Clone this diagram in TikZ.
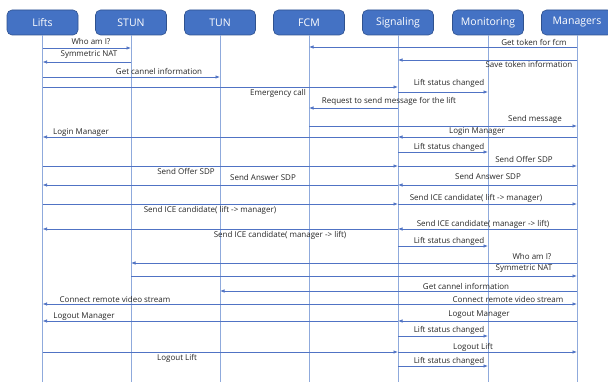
\documentclass[tikz,border=0pt]{standalone}
\usepackage{fontspec}
\setmainfont{Open Sans}
\usepackage{tikz}
\usetikzlibrary{arrows.meta}
\usetikzlibrary{positioning}
\definecolor{boxblue}{RGB}{68,114,196}
\definecolor{boxline}{RGB}{47,82,143}
\definecolor{lineblue}{RGB}{80,115,196}
\definecolor{lifeblue}{RGB}{143,170,220}
\tikzset{
    actor/.style={
        draw=boxline,
        fill=boxblue,
        rounded corners=5pt,
        minimum width=71pt,
        minimum height=25pt,
        inner sep=0pt,
        line width=0.6pt,
        text=white,
        font=\fontsize{10.5}{12}\selectfont
    },
    msg/.style={
        draw=lineblue,
        -{Latex[length=4.5pt, width=3.5pt]},
        line width=0.7pt
    }
}

\begin{document}
\begin{tikzpicture}[x=1pt, y=-1pt]
  % Define overall style for the sequence
  \tikzset{
    lifeline/.style={
      draw=lifeblue,
      line width=0.9pt
    },
    lbl/.style={
      inner sep=0pt,
      text=black!85,
      font=\fontsize{8}{9}\selectfont
    }
  }
  \useasboundingbox (0,0) rectangle (608,382);

  % Participants along the top
  \node[actor] (lifts) at (42.5,22.5) {Lifts};
  \node[actor] (stun) at (131,22.5) {STUN};
  \node[actor] (tun) at (220,22.5) {TUN};
  \node[actor] (fcm) at (309,22.5) {FCM};
  \node[actor] (signal) at (398,22.5) {Signaling};
  \node[actor] (monitor) at (488,22.5) {Monitoring};
  \node[actor] (manager) at (577,22.5) {Managers};

  % Lifelines
  \foreach \p in {lifts,stun,tun,fcm,signal,monitor,manager} {
    \coordinate (\p-end) at (\p |- 0,382);
    \draw[lifeline] (\p.south) -- (\p-end);
  }

  % Messages: from / to / height
  \foreach \a/\b/\y in {
      lifts/stun/48, stun/lifts/62, lifts/tun/77,
      manager/fcm/47, manager/signal/60,
      lifts/signal/87, signal/monitor/92, signal/fcm/108, fcm/manager/126,
      manager/signal/137, signal/lifts/137, signal/monitor/152,
      lifts/signal/166, signal/manager/166,
      manager/signal/185, signal/lifts/185,
      lifts/signal/204, signal/manager/204,
      manager/signal/229, signal/lifts/229, signal/monitor/246,
      manager/stun/263, stun/manager/276, manager/tun/291,
      signal/lifts/304, signal/manager/304,
      manager/signal/321, signal/lifts/321, signal/monitor/336,
      lifts/signal/352, signal/manager/352, signal/monitor/366} {
    \draw[msg] (\a |- 0,\y) -- (\b |- 0,\y);
  }

  % Message texts
  \foreach \n/\x/\y/\t in {
      t1/91/42/{Who am I?}, t2/89/55/{Symmetric NAT},
      t3/159/71/{Get cannel information},
      t4/534/42/{Get token for fcm}, t5/529/64/{Save token information},
      t6/278/93/{Emergency call}, t7/449/83/{Lift status changed},
      t8/389/101/{Request to send message for the lift},
      t9/535/119/{Send message},
      t10/81/133/{Login Manager}, t11/477/132/{Login Manager},
      t12/449/147/{Lift status changed},
      t13/524/159/{Send Offer SDP}, t14/186/171/{Send Offer SDP},
      t15/488/177/{Send Answer SDP}, t16/263/178/{Send Answer SDP},
      t17/476/198/{Send ICE candidate( lift -> manager)},
      t18/210/210/{Send ICE candidate( lift -> manager)},
      t19/483/224/{Send ICE candidate( manager -> lift)},
      t20/280/235/{Send ICE candidate( manager -> lift)},
      t21/449/241/{Lift status changed},
      t22/532/257/{Who am I?}, t23/524/269/{Symmetric NAT},
      t24/466/286/{Get cannel information},
      t25/508/299/{Connect remote video stream},
      t26/115/299/{Connect remote video stream},
      t27/479/315/{Logout Manager}, t28/84/317/{Logout Manager},
      t29/449/330/{Lift status changed},
      t30/473/347/{Logout Lift}, t31/177/358/{Logout Lift},
      t32/449/361/{Lift status changed}} {
    \node[lbl] (\n) at (\x,\y) {\t};
  }
\end{tikzpicture}
\end{document}
